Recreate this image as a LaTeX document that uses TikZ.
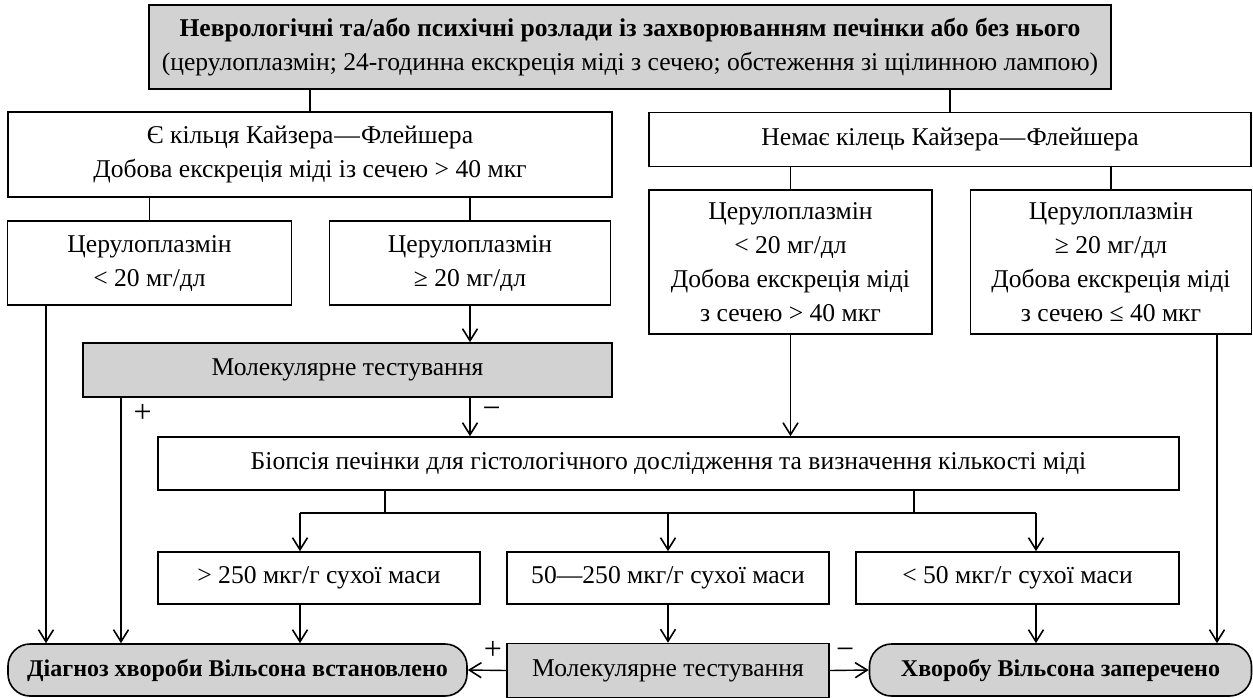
\documentclass[tikz,border=0pt]{standalone}
\usepackage{fontspec}
\setmainfont{Liberation Serif}
\usetikzlibrary{arrows.meta}
\definecolor{boxgray}{RGB}{210,210,210}
\newcommand{\boxfont}{\fontsize{12.8}{17}\selectfont}
\tikzset{
  box/.style={draw, line width=0.8pt, align=center, inner sep=0pt, font=\boxfont},
  greybox/.style={box, fill=boxgray},
  endbox/.style={greybox, rounded corners=11pt, font=\fontsize{12}{17}\selectfont\bfseries},
  link/.style={line width=0.7pt},
  arr/.style={link, -{Straight Barb[length=6pt,width=7.5pt,line width=0.8pt]}},
  sign/.style={font=\fontsize{16}{16}\selectfont, inner sep=1pt},
}
\begin{document}
\begin{tikzpicture}[x=0.5pt, y=-0.5pt]
  \useasboundingbox (0,0) rectangle (1253,697);
  % rows of boxes
  \node[greybox, minimum width=481pt, minimum height=42pt] (top) at (630,47)
    {{\bfseries Неврологічні та/або психічні розлади із захворюванням печінки або без нього}\\
     (церулоплазмін; 24-годинна екскреція міді з сечею; обстеження зі щілинною лампою)};
  \node[box, minimum width=302pt, minimum height=42.5pt] (kf) at (310,154.5)
    {Є кільця Кайзера\kern0.5pt—\kern0.5pt Флейшера\\Добова екскреція міді із сечею > 40 мкг};
  \node[box, minimum width=301pt, minimum height=27pt] (nokf) at (950,139.5)
    {Немає кілець Кайзера\kern0.5pt—\kern0.5pt Флейшера};
  \node[box, minimum width=142pt, minimum height=42pt] (cerA) at (149.5,263)
    {Церулоплазмін\\< 20 мг/дл};
  \node[box, minimum width=140.5pt, minimum height=42pt] (cerB) at (470,263)
    {Церулоплазмін\\≥ 20 мг/дл};
  \node[box, minimum width=141.5pt, minimum height=72pt] (cerC) at (790.5,262)
    {Церулоплазмін\\< 20 мг/дл\\Добова екскреція міді\\з сечею > 40 мкг};
  \node[box, minimum width=140.5pt, minimum height=72pt] (cerD) at (1111,262)
    {Церулоплазмін\\≥ 20 мг/дл\\Добова екскреція міді\\з сечею ≤ 40 мкг};
  \node[greybox, minimum width=264.5pt, minimum height=27pt] (mol) at (347.5,370)
    {Молекулярне тестування};
  \node[box, minimum width=510.5pt, minimum height=26.5pt] (biopsy) at (668.5,463.5)
    {Біопсія печінки для гістологічного дослідження та визначення кількості міді};
  \node[box, minimum width=161pt, minimum height=26pt] (highcu) at (319,578)
    {> 250 мкг/г сухої маси};
  \node[box, minimum width=161pt, minimum height=26pt] (midcu) at (668,578)
    {50—250 мкг/г сухої маси};
  \node[box, minimum width=161.5pt, minimum height=26pt] (lowcu) at (1017.5,578)
    {< 50 мкг/г сухої маси};
  \node[endbox, minimum width=229.5pt, minimum height=26pt] (diag) at (237.5,670)
    {Діагноз хвороби Вільсона встановлено};
  \node[greybox, minimum width=161pt, minimum height=27pt] (mol2) at (668,670.5)
    {Молекулярне тестування};
  \node[endbox, minimum width=191pt, minimum height=26pt] (excl) at (1060.5,670)
    {Хворобу Вільсона заперечено};
  % plain links
  \draw[link] (top.south -| kf.north) -- (kf.north);
  \draw[link] (top.south -| nokf.north) -- (nokf.north);
  \draw[link] (kf.south -| cerA.north) -- (cerA.north);
  \draw[link] (kf.south -| cerB.north) -- (cerB.north);
  \draw[link] (nokf.south -| cerC.north) -- (cerC.north);
  \draw[link] (nokf.south -| cerD.north) -- (cerD.north);
  % arrows
  \draw[arr] (cerB.south) -- (mol.north -| cerB.south);
  \draw[arr] (cerA.south -| 46,0) -- (diag.north -| 46,0);
  \draw[arr] (mol.south -| 121,0) -- (diag.north -| 121,0) node[sign, pos=0.065, right=5pt] {+};
  \draw[arr] (mol.south -| cerB.south) -- (biopsy.north -| cerB.south) node[sign, midway, right=5pt, yshift=2pt] {−};
  \draw[arr] (cerC.south) -- (biopsy.north -| cerC.south);
  \draw[arr] (cerD.south -| 1217,0) -- (excl.north -| 1217,0);
  % fork under the biopsy
  \coordinate (fork) at (0,513);
  \draw[link] (biopsy.south -| 385,0) -- (fork -| 385,0);
  \draw[link] (biopsy.south -| 914,0) -- (fork -| 914,0);
  \draw[link] (fork -| 300,0) -- (fork -| 1036,0);
  \draw[arr] (fork -| 300,0) -- (highcu.north -| 300,0);
  \draw[arr] (fork -| midcu.north) -- (midcu.north);
  \draw[arr] (fork -| 1036,0) -- (lowcu.north -| 1036,0);
  \draw[arr] (highcu.south -| 300,0) -- (diag.north -| 300,0);
  \draw[arr] (midcu.south) -- (mol2.north);
  \draw[arr] (lowcu.south -| 1036,0) -- (excl.north -| 1036,0);
  \draw[arr] (mol2.west) -- (diag.east) node[sign, midway, above=4pt, xshift=3pt] {+};
  \draw[arr] (mol2.east) -- (excl.west) node[sign, midway, above=4pt, xshift=-2pt] {−};
\end{tikzpicture}
\end{document}
